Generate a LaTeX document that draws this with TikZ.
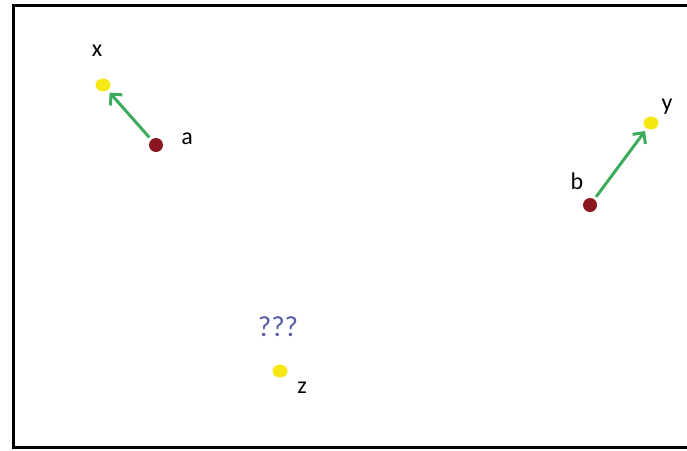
\documentclass[tikz,border=0pt]{standalone}
\usepackage{fontspec}
\setmainfont{Carlito}
\usetikzlibrary{arrows.meta,shapes.geometric}
\definecolor{dotred}{RGB}{140,22,32}
\definecolor{dotyellow}{RGB}{246,232,20}
\definecolor{arrowgreen}{RGB}{60,172,92}
\definecolor{qblue}{RGB}{88,92,168}
\begin{document}
\begin{tikzpicture}[x=1pt,y=-1pt,
	every node/.style={inner sep=0pt},
	src/.style={circle,fill=dotred,minimum size=14pt},
	tgt/.style={ellipse,fill=dotyellow,minimum width=15pt,minimum height=13pt},
	lbl/.style={font=\fontsize{24}{24}\selectfont},
	move/.style={arrowgreen,line width=3pt,-{Straight Barb[length=8pt,width=16pt]},shorten <=3pt,shorten >=3pt}]
	\useasboundingbox (0,0) rectangle (687,450);
	\draw [black,line width=2.8pt] (13.5,5.5) rectangle (700,447.5);
	\node [tgt] (x) at (103,85) {};
	\node [lbl] at (97,51) {x};
	\node [src] (a) at (156,145) {};
	\node [lbl] at (187,139) {a};
	\node [tgt] (y) at (651,123) {};
	\node [lbl] at (667,107) {y};
	\node [src] (b) at (590,205) {};
	\node [lbl] at (577,181) {b};
	\node [tgt] (z) at (280,371) {};
	\node [lbl] at (302,388) {z};
	\node [font=\fontsize{29}{29}\selectfont,text=qblue] (q) at (278,327) {???};
	\draw [move] (a) -- (x);
	\draw [move] (b) -- (y);
\end{tikzpicture}
\end{document}
